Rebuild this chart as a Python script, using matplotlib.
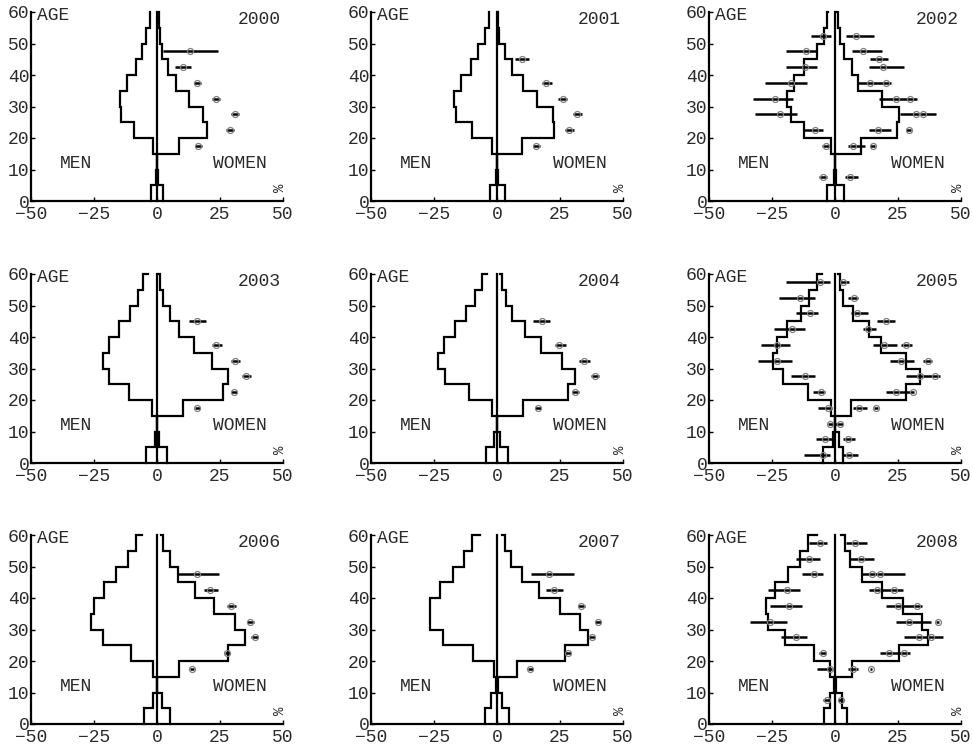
import matplotlib
matplotlib.use("Agg")
import matplotlib.pyplot as plt

plt.rcParams['font.family'] = ['Liberation Mono', 'DejaVu Sans']

# age bin edges 0,5,...,60 ; the 13th value is where the outline ends at age 60
edges = [0, 5, 10, 15, 20, 25, 30, 35, 40, 45, 50, 55, 60]

men_2000 = [-2.3, -0.4, 0.0, -1.7, -9.1, -14.2, -14.6, -11.9, -8.5, -5.9, -4.2, -2.6, -2.6]
women_2000 = [2.3, 0.4, 0.0, 8.9, 19.8, 18.2, 12.6, 7.6, 4.3, 2.0, 1.0, 0.7, 0.7]
bars_2000 = [(47.5, 2.3, 24.2), (42.5, 7.0, 13.6), (37.5, 14.5, 17.5), (32.5, 21.9, 25.1),
             (27.5, 29.2, 32.4), (22.5, 27.5, 30.5), (17.5, 14.9, 17.8)]
pts_2000 = [(47.5, 13.2), (42.5, 10.3), (37.5, 15.8), (32.5, 23.5), (27.5, 30.8), (22.5, 28.8), (17.5, 16.2)]

men_2001 = [-2.9, -0.4, 0.0, -2.1, -10.1, -16.1, -16.9, -14.1, -10.5, -7.4, -4.8, -3.2, -3.2]
women_2001 = [3.2, 0.4, 0.0, 10.1, 22.7, 22.1, 15.7, 10.4, 5.9, 3.1, 0.8, 0.5, 0.5]
bars_2001 = [(45, 7.2, 12.8), (37.5, 17.8, 21.8), (32.5, 24.3, 27.8), (27.5, 30.1, 33.6),
             (22.5, 27.0, 30.7), (17.5, 14.1, 17.0)]
pts_2001 = [(45, 10.1), (37.5, 19.4), (32.5, 26.1), (27.5, 31.8), (22.5, 28.7), (17.5, 15.4)]

men_2002 = [-3.3, -0.4, 0.0, -1.6, -12.3, -17.6, -19.2, -16.3, -12.3, -7.3, -4.4, -3.3, -2.7]
women_2002 = [3.6, 0.4, 0.0, 10.2, 24.5, 25.2, 18.6, 9.3, 6.6, 3.7, 2.0, 1.1, 0.6]
bars_2002 = [(52.5, -9.5, -1.7), (47.5, -19.5, -7.0), (42.5, -19.5, -7.0), (37.5, -27.6, -11.0),
             (32.5, -32.5, -16.8), (27.5, -31.6, -15.0), (22.5, -12.6, -4.6), (17.5, -5.3, -2.0),
             (7.5, -6.2, -3.3),
             (52.5, 4.4, 15.3), (47.5, 6.9, 18.8), (45, 13.9, 21.2), (42.5, 13.3, 27.5),
             (37.5, 9.3, 22.1), (32.5, 17.6, 32.5), (27.5, 25.6, 40.2), (22.5, 13.3, 22.1),
             (22.5, 28.2, 30.2), (17.5, 5.3, 11.9), (17.5, 14.0, 16.0), (7.5, 4.0, 9.3)]
pts_2002 = [(52.5, -4.9), (47.5, -11.7), (42.5, -11.9), (37.5, -17.6), (32.5, -23.9), (27.5, -21.9),
            (22.5, -8.0), (17.5, -3.6), (7.5, -4.9),
            (52.5, 8.4), (47.5, 11.3), (45, 17.5), (42.5, 19.2), (37.5, 13.9), (37.5, 20.2),
            (32.5, 24.3), (32.5, 29.8), (27.5, 32.1), (27.5, 34.9), (22.5, 17.2), (22.5, 29.2),
            (17.5, 7.3), (17.5, 15.0), (7.5, 6.0)]

men_2003 = [-4.3, -0.8, 0.0, -1.9, -11.2, -19.1, -21.5, -19.1, -14.9, -10.9, -7.6, -5.4, -3.6]
women_2003 = [4.0, 0.6, 0.0, 10.3, 26.2, 28.1, 21.9, 14.6, 8.9, 5.0, 2.3, 1.3, 0.8]
bars_2003 = [(45, 12.5, 19.3), (37.5, 21.9, 25.8), (32.5, 29.5, 32.8), (27.5, 33.8, 37.2),
             (22.5, 29.2, 31.9), (17.5, 14.9, 16.9)]
pts_2003 = [(45, 15.8), (37.5, 23.5), (32.5, 31.1), (27.5, 35.4), (22.5, 30.5), (17.5, 15.8)]

men_2004 = [-4.5, -1.2, 0.0, -1.9, -11.2, -20.5, -23.4, -21.1, -16.8, -12.5, -8.9, -6.1, -4.1]
women_2004 = [4.5, 1.1, 0.0, 10.4, 28.1, 31.1, 25.7, 17.4, 11.0, 5.9, 3.5, 2.1, 1.1]
bars_2004 = [(45, 14.4, 21.1), (37.5, 23.1, 27.4), (32.5, 32.7, 37.0), (27.5, 37.4, 40.4),
             (22.5, 29.7, 32.4), (17.5, 15.2, 17.4)]
pts_2004 = [(45, 17.8), (37.5, 24.7), (32.5, 34.4), (27.5, 38.8), (22.5, 31.1), (17.5, 16.2)]

men_2005 = [-4.6, -0.9, 0.0, -1.6, -10.6, -20.8, -24.6, -23.2, -19.2, -13.3, -10.2, -7.3, -5.0]
women_2005 = [3.3, 1.6, 0.0, 6.4, 28.2, 33.6, 28.2, 18.3, 13.3, 7.0, 3.1, 2.0, 1.3]
bars_2005 = [(57.5, -19.5, -2.0), (52.5, -22.3, -8.0), (47.5, -15.6, -6.6), (42.5, -24.3, -11.9),
             (37.5, -29.4, -17.9), (32.5, -30.5, -17.2), (27.5, -17.5, -8.0), (22.5, -8.9, -4.0),
             (17.5, -6.6, -1.3), (12.5, -2.7, 3.3), (7.5, -7.7, -0.9), (2.5, -12.3, -2.0),
             (57.5, 2.0, 5.7), (52.5, 5.3, 9.3), (47.5, 6.4, 12.9), (45, 16.6, 23.9),
             (42.5, 11.3, 16.3), (37.5, 15.0, 24.8), (37.5, 26.0, 30.5), (32.5, 21.9, 31.2),
             (32.5, 35.1, 38.5), (27.5, 28.2, 41.8), (22.5, 20.3, 31.2), (17.5, 7.3, 12.6),
             (17.5, 15.5, 17.0), (7.5, 3.1, 8.0), (2.5, 3.3, 9.3)]
pts_2005 = [(57.5, -6.0), (52.5, -13.9), (47.5, -9.9), (42.5, -17.2), (37.5, -23.2), (32.5, -23.2),
            (27.5, -11.9), (22.5, -5.7), (17.5, -2.9), (12.5, -2.0), (7.5, -4.0), (2.5, -4.6),
            (57.5, 3.3), (52.5, 7.6), (47.5, 8.9), (45, 20.2), (42.5, 12.9), (37.5, 19.6),
            (37.5, 28.2), (32.5, 26.1), (32.5, 36.9), (27.5, 33.6), (27.5, 39.8), (22.5, 24.1),
            (22.5, 30.8), (17.5, 9.7), (17.5, 16.3), (12.5, 2.0), (7.5, 5.0), (2.5, 5.6)]

men_2006 = [-5.0, -1.7, 0.0, -1.7, -10.3, -21.5, -26.2, -25.1, -20.9, -16.2, -11.6, -8.5, -5.9]
women_2006 = [5.0, 1.9, 0.0, 8.9, 28.1, 35.0, 30.8, 22.8, 14.9, 8.3, 5.0, 2.3, 1.7]
bars_2006 = [(47.5, 8.3, 24.8), (42.5, 18.5, 24.2), (37.5, 27.9, 31.5), (32.5, 35.7, 38.3),
             (27.5, 37.4, 40.1), (22.5, 26.8, 29.1), (17.5, 12.9, 14.6)]
pts_2006 = [(47.5, 15.8), (42.5, 21.1), (37.5, 29.2), (32.5, 37.0), (27.5, 38.7), (22.5, 27.9), (17.5, 13.8)]

men_2007 = [-4.8, -2.3, -0.5, -1.2, -9.4, -21.4, -26.7, -26.7, -22.5, -17.4, -13.2, -9.8, -6.9]
women_2007 = [4.8, 2.1, 0.5, 8.1, 27.1, 36.3, 33.1, 25.1, 16.8, 9.8, 5.5, 3.1, 2.1]
bars_2007 = [(47.5, 13.4, 30.7), (42.5, 19.4, 26.1), (37.5, 32.0, 35.0), (32.5, 38.7, 41.4),
             (27.5, 36.7, 38.7), (22.5, 27.1, 29.4), (17.5, 12.4, 14.1)]
pts_2007 = [(47.5, 20.7), (42.5, 22.5), (37.5, 33.4), (32.5, 40.0), (27.5, 37.6), (22.5, 28.3), (17.5, 13.2)]

men_2008 = [-4.4, -2.0, -0.3, -2.0, -8.4, -20.0, -26.5, -27.2, -23.9, -18.6, -13.9, -10.6, -7.3]
women_2008 = [4.6, 2.6, 0.3, 6.6, 25.2, 37.1, 34.5, 26.8, 18.8, 10.6, 5.9, 3.9, 2.4]
bars_2008 = [(57.5, -10.2, -3.3), (52.5, -15.6, -6.0), (47.5, -12.9, -4.9), (42.5, -26.5, -13.9),
             (37.5, -25.6, -12.9), (32.5, -33.8, -19.0), (27.5, -21.5, -11.0), (22.5, -6.2, -3.7),
             (17.5, -7.3, -1.3), (7.5, -4.6, -2.0),
             (57.5, 4.4, 12.6), (52.5, 5.7, 15.5), (47.5, 10.3, 27.9), (42.5, 13.3, 26.9),
             (37.5, 20.3, 34.5), (32.5, 24.3, 38.1), (32.5, 40.0, 41.4), (27.5, 27.5, 42.8),
             (22.5, 17.9, 29.6), (17.5, 5.3, 9.3), (17.5, 13.8, 14.8), (7.5, 1.3, 3.1)]
pts_2008 = [(57.5, -6.0), (52.5, -10.2), (47.5, -8.2), (42.5, -19.0), (37.5, -18.2), (32.5, -25.6),
            (27.5, -15.5), (22.5, -4.9), (17.5, -2.0), (7.5, -3.3),
            (57.5, 8.0), (52.5, 10.3), (47.5, 14.6), (47.5, 17.9), (42.5, 16.6), (42.5, 23.6),
            (37.5, 24.9), (37.5, 32.5), (32.5, 29.4), (32.5, 40.7), (27.5, 33.2), (27.5, 38.2),
            (22.5, 21.5), (22.5, 27.2), (17.5, 7.0), (17.5, 14.3), (7.5, 2.3)]

panels = [
    ('2000', men_2000, women_2000, bars_2000, pts_2000),
    ('2001', men_2001, women_2001, bars_2001, pts_2001),
    ('2002', men_2002, women_2002, bars_2002, pts_2002),
    ('2003', men_2003, women_2003, bars_2003, pts_2003),
    ('2004', men_2004, women_2004, bars_2004, pts_2004),
    ('2005', men_2005, women_2005, bars_2005, pts_2005),
    ('2006', men_2006, women_2006, bars_2006, pts_2006),
    ('2007', men_2007, women_2007, bars_2007, pts_2007),
    ('2008', men_2008, women_2008, bars_2008, pts_2008),
]

txt = '#2a2a2a'
fs = 13


def outline(ax, vals):
    xs, ys = [], []
    for i in range(12):
        xs += [vals[i], vals[i]]
        ys += [edges[i], edges[i + 1]]
    xs.append(vals[12])
    ys.append(edges[12])
    ax.plot(xs, ys, color='k', lw=1.6, solid_joinstyle='miter', clip_on=False, zorder=3)


fig = plt.figure(figsize=(9.73, 7.51), dpi=100)
lefts = [31 / 973, 371 / 973, 709 / 973]
bottoms = [1 - 201 / 751, 1 - 463 / 751, 1 - 724 / 751]
w, h = 252 / 973, 189 / 751

for k, (year, men, women, bars, pts) in enumerate(panels):
    ax = fig.add_axes([lefts[k % 3], bottoms[k // 3], w, h])
    ax.set_xlim(-50, 50)
    ax.set_ylim(0, 60)
    for s in ['top', 'right']:
        ax.spines[s].set_visible(False)
    for s in ['left', 'bottom']:
        ax.spines[s].set_linewidth(1.6)
    ax.set_xticks([-50, -25, 0, 25, 50])
    ax.set_yticks([0, 10, 20, 30, 40, 50, 60])
    ax.tick_params(direction='in', length=3, width=1, pad=1, labelsize=fs, labelcolor=txt)
    ax.tick_params(axis='x', pad=3.5)

    outline(ax, men)
    outline(ax, women)
    ax.plot([0, 0], [0, 60], color='k', lw=1.6, clip_on=False, zorder=3)

    ax.hlines([b[0] for b in bars], [b[1] for b in bars], [b[2] for b in bars],
              color='k', lw=1.8, zorder=4)
    ax.plot([p[1] for p in pts], [p[0] for p in pts], 'o', ms=4.3, mfc='none',
            mec='#808080', mew=0.9, zorder=5)

    ax.text(-47.8, 59, 'AGE', ha='left', va='center', fontsize=fs, color=txt)
    ax.text(49, 57.5, year, ha='right', va='center', fontsize=fs, color=txt)
    ax.text(-32, 12, 'MEN', ha='center', va='center', fontsize=fs, color=txt)
    ax.text(33, 12, 'WOMEN', ha='center', va='center', fontsize=fs, color=txt)
    ax.text(48.8, 4.2, '%', ha='center', va='center', fontsize=10, color=txt, rotation=90)

fig.savefig('out.png', dpi=100)
